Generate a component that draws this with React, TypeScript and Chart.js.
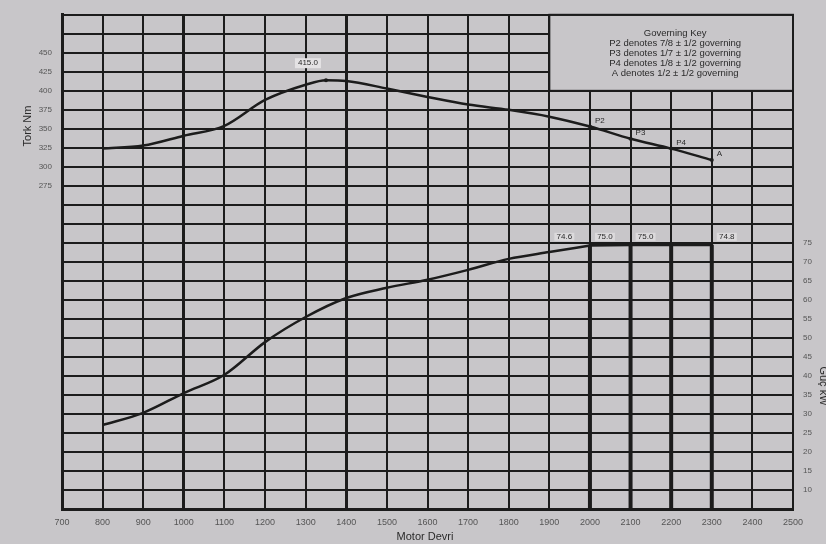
import React, { useEffect, useRef } from "react";
import { Chart, registerables } from "chart.js";

Chart.register(...registerables);

// Engine speed (rpm) for torque curve
const torqueRpm = [800, 900, 1000, 1100, 1200, 1300, 1350, 1400, 1500, 1600, 1700, 1800, 1900, 2000, 2100, 2200, 2300];
const torqueNm = [324, 328, 341, 354, 388, 408, 414, 413, 403, 392, 382, 375, 366, 353, 337, 324, 309];

// Engine speed (rpm) for power curve
const powerRpm = [800, 900, 1000, 1100, 1200, 1300, 1400, 1500, 1600, 1700, 1800, 1900, 2000];
const powerKw = [27.1, 30.3, 35.5, 40.3, 48.9, 55.5, 60.5, 63.2, 65.3, 67.9, 70.8, 72.6, 74.3];

// Governing plateau and droop lines
const plateauRpm = [2000, 2100, 2200, 2300];
const plateauKw = [74.4, 74.5, 74.5, 74.5];
const governorRpm = [2000, 2100, 2200, 2300];
const governorKw = 74.5;
const powerFloor = 5;

// Point labels
const torqueLabelRpm = [2000, 2100, 2200, 2300];
const torqueLabelText = ["P2", "P3", "P4", "A"];
const peakRpm = 1350;
const peakText = "415.0";
const powerLabelRpm = [1900, 2000, 2100, 2300];
const powerLabelText = ["74.6", "75.0", "75.0", "74.8"];

// Key text
const keyLines = [
  "Governing Key",
  "P2 denotes 7/8 ± 1/2 governing",
  "P3 denotes 1/7 ± 1/2 governing",
  "P4 denotes 1/8 ± 1/2 governing",
  "A denotes 1/2 ± 1/2 governing",
];

// Axis definitions
const xMin = 700, xMax = 2500, xStep = 100;
const torqueMin = -150, torqueMax = 500, torqueStep = 25, torqueLabelLo = 275, torqueLabelHi = 450;
const powerMin = 5, powerMax = 135, powerStep = 5, powerLabelLo = 10, powerLabelHi = 75;
const keyRpmFrom = 1900, keyTorqueFrom = 400;

const BG = "#c8c6c9";
const INK = "#1c1c1c";
const FONT = "'Liberation Sans', Arial, sans-serif";

export default function App() {
  const ref = useRef<HTMLCanvasElement | null>(null);

  useEffect(() => {
    if (!ref.current) return;

    const decor = {
      id: "decor",
      beforeDraw(chart: any) {
        const c = chart.ctx;
        c.save();
        c.fillStyle = BG;
        c.fillRect(0, 0, chart.width, chart.height);
        c.restore();
      },
      beforeDatasetsDraw(chart: any) {
        const c = chart.ctx;
        const x = chart.scales.x, y = chart.scales.y;
        const l = x.getPixelForValue(keyRpmFrom), r = x.getPixelForValue(xMax);
        const t = y.getPixelForValue(torqueMax), b = y.getPixelForValue(keyTorqueFrom);
        c.save();
        c.fillStyle = BG;
        c.fillRect(l, t + 1, r - l - 1, b - t - 1);
        c.strokeStyle = INK;
        c.lineWidth = 2;
        c.strokeRect(l, t, r - l, b - t);
        c.fillStyle = "#2a2a2a";
        c.font = "9.5px " + FONT;
        c.textAlign = "center";
        c.textBaseline = "middle";
        const cx = (l + r) / 2 + 4;
        keyLines.forEach((s, i) => c.fillText(s, cx, t + 19 + i * 10));
        c.restore();
      },
      afterDatasetsDraw(chart: any) {
        const c = chart.ctx;
        const x = chart.scales.x, y = chart.scales.y, y1 = chart.scales.y1;
        c.save();
        c.font = "8px " + FONT;
        c.fillStyle = "#2a2a2a";
        c.textBaseline = "middle";
        torqueLabelRpm.forEach((rpm, i) => {
          const idx = torqueRpm.indexOf(rpm);
          const px = x.getPixelForValue(rpm), py = y.getPixelForValue(torqueNm[idx]);
          c.textAlign = "left";
          c.fillText(torqueLabelText[i], px + 5, py - 6);
        });
        const pi = torqueRpm.indexOf(peakRpm);
        const ppx = x.getPixelForValue(peakRpm) - 18, ppy = y.getPixelForValue(torqueNm[pi]) - 17;
        c.fillStyle = "#e4e2e4";
        c.fillRect(ppx - 13, ppy - 5, 26, 10);
        c.fillStyle = "#2a2a2a";
        c.textAlign = "center";
        c.fillText(peakText, ppx, ppy);
        powerLabelRpm.forEach((rpm, i) => {
          const px = x.getPixelForValue(rpm) + 15;
          const py = y1.getPixelForValue(governorKw) - 8;
          c.fillStyle = "#dcdadc";
          c.fillRect(px - 10, py - 4, 20, 8);
          c.fillStyle = "#2a2a2a";
          c.fillText(powerLabelText[i], px, py);
        });
        c.restore();
      },
      afterDraw(chart: any) {
        const c = chart.ctx;
        c.save();
        c.fillStyle = "#2a2a2a";
        c.font = "11px " + FONT;
        c.textAlign = "center";
        c.textBaseline = "middle";
        c.fillText("Motor Devri", 425, 537);
        c.translate(28, 126);
        c.rotate(-Math.PI / 2);
        c.fillText("Tork Nm", 0, 0);
        c.restore();
        c.save();
        c.fillStyle = "#2a2a2a";
        c.font = "11px " + FONT;
        c.textAlign = "center";
        c.textBaseline = "middle";
        c.translate(823, 386);
        c.rotate(Math.PI / 2);
        c.fillText("Güç kW", 0, 0);
        c.restore();
      },
    };

    const gridWidth = (ctx: any) => {
      const v = ctx.tick ? ctx.tick.value : 0;
      if (v === 1000 || v === 1400) return 3;
      return 2;
    };

    const datasets: any[] = [
      {
        label: "Tork",
        data: torqueRpm.map((r, i) => ({ x: r, y: torqueNm[i] })),
        yAxisID: "y",
        borderColor: INK,
        borderWidth: 2.5,
        cubicInterpolationMode: "monotone",
        pointRadius: torqueRpm.map((r) => (r === peakRpm || torqueLabelRpm.includes(r) ? 2 : 0)),
        pointBackgroundColor: INK,
        pointBorderWidth: 0,
      },
      {
        label: "Güç",
        data: powerRpm.map((r, i) => ({ x: r, y: powerKw[i] })),
        yAxisID: "y1",
        borderColor: INK,
        borderWidth: 2.5,
        cubicInterpolationMode: "monotone",
        pointRadius: 0,
      },
      {
        label: "Plateau",
        data: plateauRpm.map((r, i) => ({ x: r, y: plateauKw[i] })),
        yAxisID: "y1",
        borderColor: INK,
        borderWidth: 3,
        pointRadius: 0,
      },
      ...governorRpm.map((r) => ({
        label: "Gov " + r,
        data: [
          { x: r, y: governorKw },
          { x: r, y: powerFloor },
        ],
        yAxisID: "y1",
        borderColor: INK,
        borderWidth: 4,
        pointRadius: 0,
      })),
    ];

    const chart = new Chart(ref.current, {
      type: "line",
      data: { datasets },
      options: {
        animation: false,
        responsive: true,
        maintainAspectRatio: false,
        layout: { padding: { top: 13, left: 0, right: 0, bottom: 0 } },
        plugins: { legend: { display: false }, tooltip: { enabled: false } },
        scales: {
          x: {
            type: "linear",
            min: xMin,
            max: xMax,
            ticks: {
              stepSize: xStep,
              color: "#555",
              font: { size: 9, family: FONT },
              padding: 8,
              maxRotation: 0,
              autoSkip: false,
              callback: (v: any) => String(v),
            },
            grid: { color: INK, lineWidth: gridWidth, drawTicks: false },
            border: { color: INK, width: 3 },
            afterFit: (s: any) => {
              s.height = 35;
            },
          },
          y: {
            position: "left",
            min: torqueMin,
            max: torqueMax,
            ticks: {
              stepSize: torqueStep,
              color: "#555",
              font: { size: 8, family: FONT },
              padding: 10,
              autoSkip: false,
              callback: (v: any) => (v >= torqueLabelLo && v <= torqueLabelHi ? String(v) : ""),
            },
            grid: { color: INK, lineWidth: 2, drawTicks: false },
            border: { color: INK, width: 3 },
            afterFit: (s: any) => {
              s.width = 62;
            },
          },
          y1: {
            position: "right",
            min: powerMin,
            max: powerMax,
            ticks: {
              stepSize: powerStep,
              color: "#555",
              font: { size: 8, family: FONT },
              padding: 10,
              autoSkip: false,
              callback: (v: any) => (v >= powerLabelLo && v <= powerLabelHi ? String(v) : ""),
            },
            grid: { display: false, drawTicks: false },
            border: { color: INK, width: 2 },
            afterFit: (s: any) => {
              s.width = 33;
            },
          },
        },
      },
      plugins: [decor],
    });

    return () => chart.destroy();
  }, []);

  return (
    <div style={{ position: "fixed", left: 0, top: 0, width: 826, height: 544, background: BG }}>
      <canvas ref={ref} />
    </div>
  );
}
